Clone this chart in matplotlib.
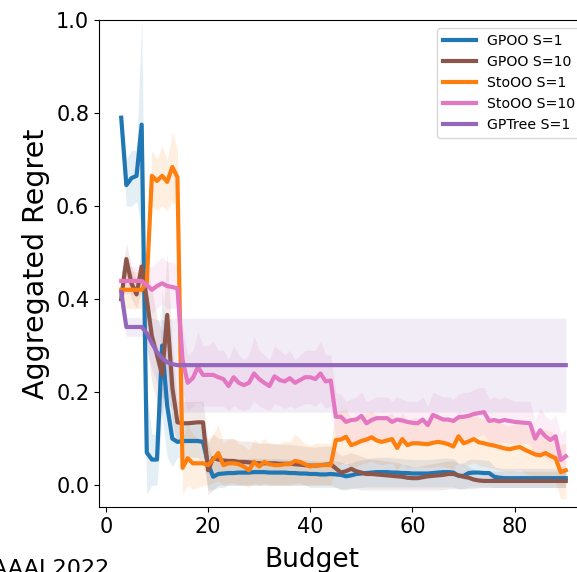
import matplotlib
matplotlib.use("Agg")
import matplotlib.pyplot as plt
import numpy as np

# Budget values (x axis)
budget = np.arange(3, 91)

gpoo1_mean = [
    0.79, 0.645, 0.66, 0.665, 0.775, 0.07, 0.055, 0.055, 0.30, 0.17,
    0.10, 0.093, 0.095, 0.095, 0.095, 0.095, 0.093, 0.045, 0.018, 0.024,
    0.025, 0.026, 0.026, 0.027, 0.027, 0.027, 0.028, 0.028, 0.028, 0.027,
    0.027, 0.027, 0.027, 0.026, 0.026, 0.025, 0.025, 0.024, 0.024, 0.023,
    0.023, 0.024, 0.023, 0.022, 0.019, 0.021, 0.024, 0.025, 0.026, 0.027,
    0.028, 0.028, 0.028, 0.027, 0.027, 0.026, 0.026, 0.025, 0.025, 0.025,
    0.025, 0.026, 0.027, 0.028, 0.028, 0.027, 0.020, 0.020, 0.026, 0.027,
    0.027, 0.026, 0.026, 0.018, 0.016, 0.015, 0.015, 0.015, 0.015, 0.015,
    0.015, 0.015, 0.015, 0.015, 0.015, 0.015, 0.015, 0.015]
gpoo1_lo = [
    0.77, 0.60, 0.60, 0.61, 0.55, -0.02, 0.00, 0.00, 0.15, 0.06,
    0.04, 0.06, 0.06, 0.06, 0.06, 0.06, 0.05, -0.01, -0.01, -0.005,
    -0.005, 0.0, 0.0, 0.0, 0.0, 0.0, 0.0, 0.0, 0.0, 0.0,
    0.0, 0.0, 0.0, 0.0, 0.0, 0.0, 0.0, -0.005, -0.005, -0.005,
    -0.005, -0.005, -0.005, -0.008, -0.01, -0.008, -0.005, -0.005, -0.004, -0.004,
    -0.004, -0.004, -0.004, -0.004, -0.004, -0.004, -0.004, -0.004, -0.004, -0.004,
    -0.004, -0.004, -0.004, -0.004, -0.004, -0.004, -0.008, -0.008, -0.004, -0.004,
    -0.004, -0.004, -0.004, -0.005, -0.005, -0.005, -0.005, -0.005, -0.005, -0.005,
    -0.005, -0.005, -0.005, -0.005, -0.005, -0.005, -0.005, -0.005]
gpoo1_hi = [
    0.81, 0.70, 0.72, 0.72, 1.00, 0.20, 0.11, 0.11, 0.42, 0.28,
    0.16, 0.13, 0.13, 0.13, 0.13, 0.13, 0.13, 0.09, 0.05, 0.055,
    0.055, 0.056, 0.056, 0.057, 0.057, 0.058, 0.058, 0.058, 0.058, 0.057,
    0.057, 0.057, 0.056, 0.056, 0.055, 0.055, 0.054, 0.053, 0.053, 0.052,
    0.052, 0.053, 0.052, 0.050, 0.046, 0.048, 0.052, 0.054, 0.056, 0.058,
    0.060, 0.060, 0.060, 0.059, 0.058, 0.057, 0.056, 0.055, 0.055, 0.055,
    0.055, 0.056, 0.057, 0.058, 0.058, 0.057, 0.048, 0.048, 0.055, 0.056,
    0.055, 0.054, 0.053, 0.040, 0.037, 0.036, 0.036, 0.036, 0.036, 0.036,
    0.036, 0.036, 0.036, 0.036, 0.036, 0.036, 0.036, 0.036]

gpoo10_mean = [
    0.40, 0.486, 0.434, 0.41, 0.47, 0.40, 0.32, 0.28, 0.237, 0.366,
    0.21, 0.135, 0.133, 0.133, 0.134, 0.135, 0.135, 0.032, 0.058, 0.055,
    0.053, 0.052, 0.052, 0.050, 0.050, 0.049, 0.048, 0.047, 0.047, 0.047,
    0.047, 0.046, 0.046, 0.046, 0.045, 0.044, 0.043, 0.042, 0.042, 0.043,
    0.044, 0.045, 0.036, 0.027, 0.030, 0.035, 0.030, 0.027, 0.024, 0.024,
    0.023, 0.022, 0.021, 0.020, 0.019, 0.018, 0.016, 0.015, 0.015, 0.017,
    0.019, 0.020, 0.021, 0.022, 0.024, 0.024, 0.021, 0.018, 0.016, 0.012,
    0.010, 0.009, 0.009, 0.009, 0.009, 0.009, 0.009, 0.009, 0.009, 0.009,
    0.009, 0.009, 0.009, 0.009, 0.009, 0.009, 0.009, 0.009]
gpoo10_lo = [
    0.36, 0.45, 0.40, 0.38, 0.42, 0.30, 0.22, 0.18, 0.15, 0.25,
    0.13, 0.09, 0.09, 0.09, 0.09, 0.09, 0.09, -0.02, -0.01, 0.0,
    0.0, 0.0, 0.0, 0.0, 0.0, 0.0, 0.0, 0.0, 0.0, 0.0,
    0.0, 0.0, 0.0, 0.0, 0.0, 0.0, 0.0, 0.0, 0.0, 0.0,
    0.0, 0.0, -0.005, -0.01, -0.008, -0.006, -0.008, -0.01, -0.01, -0.01,
    -0.01, -0.01, -0.01, -0.01, -0.01, -0.01, -0.01, -0.01, -0.01, -0.01,
    -0.01, -0.01, -0.01, -0.01, -0.008, -0.008, -0.008, -0.008, -0.008, -0.008,
    -0.006, -0.005, -0.005, -0.005, -0.005, -0.005, -0.005, -0.005, -0.005, -0.005,
    -0.005, -0.005, -0.005, -0.005, -0.005, -0.005, -0.005, -0.005]
gpoo10_hi = [
    0.44, 0.52, 0.47, 0.44, 0.51, 0.48, 0.42, 0.36, 0.33, 0.50,
    0.30, 0.18, 0.18, 0.18, 0.18, 0.18, 0.18, 0.09, 0.11, 0.10,
    0.10, 0.10, 0.10, 0.095, 0.095, 0.095, 0.092, 0.09, 0.09, 0.09,
    0.09, 0.088, 0.088, 0.088, 0.086, 0.085, 0.083, 0.082, 0.082, 0.083,
    0.084, 0.085, 0.075, 0.064, 0.066, 0.07, 0.066, 0.062, 0.058, 0.056,
    0.055, 0.054, 0.052, 0.05, 0.048, 0.046, 0.043, 0.04, 0.04, 0.042,
    0.044, 0.046, 0.048, 0.05, 0.052, 0.052, 0.048, 0.044, 0.04, 0.034,
    0.03, 0.03, 0.03, 0.03, 0.03, 0.03, 0.03, 0.03, 0.03, 0.03,
    0.03, 0.03, 0.03, 0.03, 0.03, 0.03, 0.03, 0.03]

stoo1_mean = [
    0.42, 0.42, 0.42, 0.42, 0.42, 0.435, 0.665, 0.654, 0.665, 0.652,
    0.684, 0.662, 0.037, 0.058, 0.047, 0.047, 0.047, 0.043, 0.055, 0.069,
    0.043, 0.047, 0.047, 0.045, 0.040, 0.032, 0.050, 0.040, 0.050, 0.045,
    0.043, 0.043, 0.045, 0.045, 0.052, 0.050, 0.045, 0.040, 0.043, 0.043,
    0.043, 0.043, 0.097, 0.098, 0.104, 0.086, 0.090, 0.095, 0.098, 0.103,
    0.096, 0.093, 0.096, 0.099, 0.080, 0.099, 0.086, 0.090, 0.090, 0.089,
    0.088, 0.091, 0.093, 0.091, 0.088, 0.083, 0.105, 0.090, 0.094, 0.099,
    0.092, 0.090, 0.087, 0.085, 0.082, 0.079, 0.077, 0.080, 0.082, 0.076,
    0.071, 0.066, 0.064, 0.069, 0.063, 0.058, 0.028, 0.032]
stoo1_lo = [
    0.38, 0.38, 0.38, 0.38, 0.38, 0.40, 0.60, 0.59, 0.60, 0.59,
    0.61, 0.60, -0.02, 0.0, -0.01, -0.005, 0.0, 0.0, 0.005, 0.01,
    0.0, 0.005, 0.005, 0.0, 0.0, -0.005, 0.005, 0.0, 0.005, 0.0,
    0.0, 0.0, 0.0, 0.0, 0.005, 0.005, 0.0, 0.0, 0.0, 0.0,
    0.0, 0.0, 0.04, 0.045, 0.05, 0.035, 0.04, 0.045, 0.048, 0.052,
    0.046, 0.044, 0.046, 0.048, 0.032, 0.048, 0.036, 0.04, 0.04, 0.04,
    0.038, 0.04, 0.042, 0.04, 0.038, 0.034, 0.052, 0.04, 0.044, 0.048,
    0.042, 0.04, 0.037, 0.035, 0.032, 0.03, 0.028, 0.03, 0.032, 0.026,
    0.02, 0.016, 0.014, 0.018, 0.012, 0.005, -0.03, -0.03]
stoo1_hi = [
    0.46, 0.46, 0.46, 0.46, 0.46, 0.47, 0.72, 0.70, 0.73, 0.70,
    0.76, 0.72, 0.10, 0.13, 0.11, 0.10, 0.10, 0.10, 0.11, 0.13,
    0.09, 0.10, 0.10, 0.09, 0.085, 0.075, 0.10, 0.09, 0.10, 0.09,
    0.088, 0.09, 0.095, 0.094, 0.11, 0.10, 0.09, 0.085, 0.09, 0.09,
    0.09, 0.09, 0.16, 0.16, 0.165, 0.14, 0.145, 0.15, 0.155, 0.16,
    0.15, 0.145, 0.15, 0.155, 0.13, 0.155, 0.14, 0.145, 0.145, 0.142,
    0.14, 0.145, 0.148, 0.145, 0.14, 0.135, 0.16, 0.145, 0.15, 0.155,
    0.145, 0.142, 0.14, 0.138, 0.135, 0.13, 0.128, 0.132, 0.135, 0.128,
    0.12, 0.118, 0.115, 0.12, 0.115, 0.11, 0.085, 0.09]

stoo10_mean = [
    0.439, 0.439, 0.439, 0.439, 0.439, 0.43, 0.42, 0.428, 0.434, 0.428,
    0.426, 0.423, 0.27, 0.22, 0.23, 0.254, 0.237, 0.237, 0.237, 0.232,
    0.228, 0.213, 0.232, 0.22, 0.215, 0.22, 0.24, 0.228, 0.22, 0.213,
    0.234, 0.226, 0.223, 0.23, 0.22, 0.226, 0.232, 0.232, 0.228, 0.24,
    0.223, 0.225, 0.147, 0.147, 0.136, 0.14, 0.141, 0.149, 0.133, 0.14,
    0.144, 0.144, 0.144, 0.136, 0.141, 0.139, 0.136, 0.134, 0.133, 0.141,
    0.129, 0.151, 0.146, 0.141, 0.141, 0.138, 0.146, 0.147, 0.149, 0.153,
    0.155, 0.157, 0.138, 0.14, 0.137, 0.14, 0.138, 0.136, 0.135, 0.134,
    0.133, 0.10, 0.118, 0.105, 0.097, 0.105, 0.054, 0.062]
stoo10_lo = [
    0.41, 0.41, 0.41, 0.41, 0.41, 0.39, 0.37, 0.38, 0.39, 0.38,
    0.38, 0.38, 0.20, 0.16, 0.17, 0.18, 0.17, 0.17, 0.17, 0.17,
    0.17, 0.16, 0.17, 0.165, 0.16, 0.165, 0.18, 0.17, 0.165, 0.16,
    0.175, 0.17, 0.165, 0.17, 0.165, 0.17, 0.175, 0.175, 0.17, 0.18,
    0.165, 0.17, 0.10, 0.10, 0.09, 0.095, 0.095, 0.10, 0.09, 0.095,
    0.10, 0.10, 0.10, 0.09, 0.095, 0.094, 0.09, 0.09, 0.09, 0.095,
    0.085, 0.10, 0.10, 0.095, 0.095, 0.092, 0.10, 0.10, 0.10, 0.105,
    0.105, 0.11, 0.09, 0.092, 0.09, 0.092, 0.09, 0.09, 0.09, 0.09,
    0.09, 0.055, 0.07, 0.06, 0.05, 0.06, 0.0, 0.01]
stoo10_hi = [
    0.47, 0.47, 0.47, 0.47, 0.47, 0.47, 0.47, 0.48, 0.49, 0.48,
    0.48, 0.47, 0.34, 0.28, 0.29, 0.33, 0.30, 0.30, 0.31, 0.29,
    0.29, 0.27, 0.30, 0.28, 0.27, 0.28, 0.32, 0.29, 0.28, 0.27,
    0.30, 0.29, 0.28, 0.29, 0.27, 0.28, 0.29, 0.29, 0.29, 0.31,
    0.28, 0.28, 0.20, 0.195, 0.18, 0.185, 0.19, 0.20, 0.18, 0.185,
    0.19, 0.19, 0.19, 0.18, 0.19, 0.185, 0.18, 0.18, 0.18, 0.19,
    0.17, 0.20, 0.195, 0.19, 0.19, 0.185, 0.195, 0.20, 0.20, 0.205,
    0.21, 0.21, 0.185, 0.19, 0.185, 0.19, 0.185, 0.18, 0.18, 0.18,
    0.18, 0.14, 0.165, 0.15, 0.14, 0.15, 0.11, 0.12]

gptree_mean = [
    0.415, 0.34, 0.34, 0.34, 0.34, 0.327, 0.305, 0.286, 0.273, 0.264,
    0.26, 0.258, 0.258, 0.258, 0.258, 0.258, 0.258, 0.258, 0.258, 0.258,
    0.258, 0.258, 0.258, 0.258, 0.258, 0.258, 0.258, 0.258, 0.258, 0.258,
    0.258, 0.258, 0.258, 0.258, 0.258, 0.258, 0.258, 0.258, 0.258, 0.258,
    0.258, 0.258, 0.258, 0.258, 0.258, 0.258, 0.258, 0.258, 0.258, 0.258,
    0.258, 0.258, 0.258, 0.258, 0.258, 0.258, 0.258, 0.258, 0.258, 0.258,
    0.258, 0.258, 0.258, 0.258, 0.258, 0.258, 0.258, 0.258, 0.258, 0.258,
    0.258, 0.258, 0.258, 0.258, 0.258, 0.258, 0.258, 0.258, 0.258, 0.258,
    0.258, 0.258, 0.258, 0.258, 0.258, 0.258, 0.258, 0.258]
gptree_lo = [
    0.38, 0.32, 0.32, 0.32, 0.32, 0.29, 0.25, 0.22, 0.19, 0.175,
    0.165, 0.158, 0.157, 0.157, 0.157, 0.157, 0.157, 0.157, 0.157, 0.157,
    0.157, 0.157, 0.157, 0.157, 0.157, 0.157, 0.157, 0.157, 0.157, 0.157,
    0.157, 0.157, 0.157, 0.157, 0.157, 0.157, 0.157, 0.157, 0.157, 0.157,
    0.157, 0.157, 0.157, 0.157, 0.157, 0.157, 0.157, 0.157, 0.157, 0.157,
    0.157, 0.157, 0.157, 0.157, 0.157, 0.157, 0.157, 0.157, 0.157, 0.157,
    0.157, 0.157, 0.157, 0.157, 0.157, 0.157, 0.157, 0.157, 0.157, 0.157,
    0.157, 0.157, 0.157, 0.157, 0.157, 0.157, 0.157, 0.157, 0.157, 0.157,
    0.157, 0.157, 0.157, 0.157, 0.157, 0.157, 0.157, 0.157]
gptree_hi = [
    0.45, 0.36, 0.36, 0.36, 0.36, 0.36, 0.36, 0.355, 0.356, 0.357,
    0.358, 0.359, 0.359, 0.359, 0.359, 0.359, 0.359, 0.359, 0.359, 0.359,
    0.359, 0.359, 0.359, 0.359, 0.359, 0.359, 0.359, 0.359, 0.359, 0.359,
    0.359, 0.359, 0.359, 0.359, 0.359, 0.359, 0.359, 0.359, 0.359, 0.359,
    0.359, 0.359, 0.359, 0.359, 0.359, 0.359, 0.359, 0.359, 0.359, 0.359,
    0.359, 0.359, 0.359, 0.359, 0.359, 0.359, 0.359, 0.359, 0.359, 0.359,
    0.359, 0.359, 0.359, 0.359, 0.359, 0.359, 0.359, 0.359, 0.359, 0.359,
    0.359, 0.359, 0.359, 0.359, 0.359, 0.359, 0.359, 0.359, 0.359, 0.359,
    0.359, 0.359, 0.359, 0.359, 0.359, 0.359, 0.359, 0.359]

labels = ["GPOO S=1", "GPOO S=10", "StoOO S=1", "StoOO S=10", "GPTree S=1"]
colors = ["#1f77b4", "#8c564b", "#ff7f0e", "#e377c2", "#9467bd"]
means = [gpoo1_mean, gpoo10_mean, stoo1_mean, stoo10_mean, gptree_mean]
lows = [gpoo1_lo, gpoo10_lo, stoo1_lo, stoo10_lo, gptree_lo]
highs = [gpoo1_hi, gpoo10_hi, stoo1_hi, stoo10_hi, gptree_hi]
xticks = [0, 20, 40, 60, 80]
yticks = [0.0, 0.2, 0.4, 0.6, 0.8, 1.0]

W, H = 577, 572
fig = plt.figure(figsize=(W / 100, H / 100), dpi=100)
ax = fig.add_axes([99 / W, 65 / H, 489 / W, 487 / H])

for lab, col, m, lo, hi in zip(labels, colors, means, lows, highs):
    n = min(len(budget), len(m), len(lo), len(hi))
    ax.fill_between(budget[:n], lo[:n], hi[:n], color=col, alpha=0.12, linewidth=0)
    ax.plot(budget[:n], m[:n], color=col, lw=3, label=lab)

ax.set_xticks(xticks)
ax.set_yticks(yticks)
ax.set_xlim(-1.35, 94.35)
ax.set_ylim(-0.047, 1.0)
ax.tick_params(labelsize=15)
ax.set_xlabel("Budget", fontsize=19)
ax.xaxis.set_label_coords((312 - 99) / 489, (507 - 547) / 487)
ax.set_ylabel("Aggregated Regret", fontsize=20.5)

ax.legend(loc="upper right", fontsize=10.2, handlelength=2.35,
          bbox_to_anchor=((581 - 99) / 489, (507 - 28) / 487),
          borderaxespad=0)

fig.text(-8 / W, 1 - 559 / H, "AAAI 2022", fontsize=16, ha="left", va="top")

fig.savefig("out.png", dpi=100)
